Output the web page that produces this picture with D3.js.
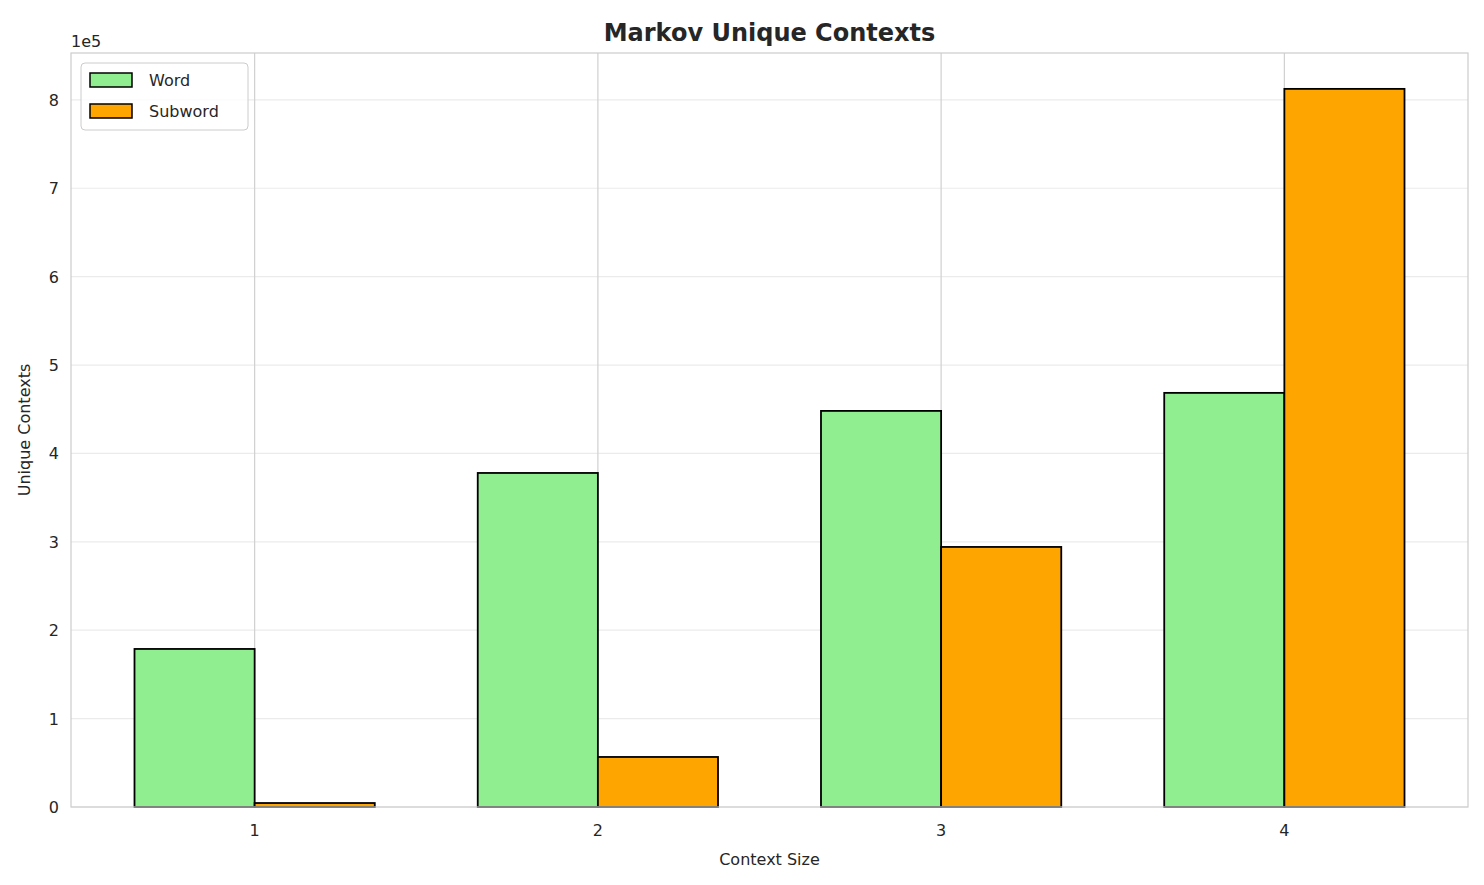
<!DOCTYPE html>
<html><head><meta charset="utf-8">
<script src="https://cdn.jsdelivr.net/npm/d3@7"></script>
<style>body{margin:0;background:#fff;font-family:"DejaVu Sans",sans-serif}</style>
</head><body>
<svg id="chart" width="1484" height="885"></svg>
<script>
// chart data
var contextSizes = [1, 2, 3, 4];
var wordValues = [178800, 377900, 448100, 468500];
var subwordValues = [4500, 56600, 294200, 812400];
var yTicks = [0, 1, 2, 3, 4, 5, 6, 7, 8];

var margin = {left: 71, right: 16, top: 53, bottom: 78};
var W = 1484, H = 885;
var svg = d3.select('#chart');
var BW = 0.35;

var x = d3.scaleLinear().domain([-0.535, 3.535]).range([margin.left, W - margin.right]);
var y = d3.scaleLinear().domain([0, 853000]).range([H - margin.bottom, margin.top]);

// grid
svg.append('g').selectAll('line.h').data(yTicks).enter().append('line')
    .attr('x1', margin.left).attr('x2', W - margin.right)
    .attr('y1', function(d) { return y(d * 1e5); })
    .attr('y2', function(d) { return y(d * 1e5); })
    .style('stroke', '#ebebeb').style('stroke-width', 1.2);
svg.append('g').selectAll('line.v').data(contextSizes).enter().append('line')
    .attr('x1', function(d, i) { return x(i); }).attr('x2', function(d, i) { return x(i); })
    .attr('y1', margin.top).attr('y2', H - margin.bottom)
    .style('stroke', '#d0d0d0').style('stroke-width', 1.2);

function drawBars(vals, offset, fill) {
  svg.append('g').selectAll('rect').data(vals).enter().append('rect')
      .attr('x', function(d, i) { return x(i + offset); })
      .attr('width', x(BW) - x(0))
      .attr('y', function(d) { return y(d); })
      .attr('height', function(d) { return y(0) - y(d); })
      .style('fill', fill).style('stroke', 'black').style('stroke-width', 1.8);
}
drawBars(wordValues, -BW, '#90ee90');
drawBars(subwordValues, 0, '#ffa500');

// frame
svg.append('rect').attr('x', margin.left).attr('y', margin.top)
    .attr('width', W - margin.right - margin.left).attr('height', H - margin.bottom - margin.top)
    .style('fill', 'none').style('stroke', '#cccccc').style('stroke-width', 1.2);

// tick labels
svg.append('g').selectAll('text').data(yTicks).enter().append('text')
    .attr('x', margin.left - 12).attr('y', function(d) { return y(d * 1e5) + 6; })
    .attr('text-anchor', 'end').style('font-size', '16px').style('fill', '#262626')
    .text(String);
svg.append('g').selectAll('text').data(contextSizes).enter().append('text')
    .attr('x', function(d, i) { return x(i); }).attr('y', H - margin.bottom + 29)
    .attr('text-anchor', 'middle').style('font-size', '16px').style('fill', '#262626')
    .text(String);
svg.append('text').attr('x', margin.left).attr('y', margin.top - 6)
    .style('font-size', '16px').style('fill', '#262626').text('1e5');

// titles
svg.append('text').attr('x', (margin.left + W - margin.right) / 2).attr('y', 41)
    .attr('text-anchor', 'middle').style('font-size', '24px').style('font-weight', 'bold')
    .style('fill', '#262626').text('Markov Unique Contexts');
svg.append('text').attr('x', (margin.left + W - margin.right) / 2).attr('y', 865)
    .attr('text-anchor', 'middle').style('font-size', '16px').style('fill', '#262626')
    .text('Context Size');
svg.append('text').attr('transform', 'translate(30,' + ((margin.top + H - margin.bottom) / 2) + ') rotate(-90)')
    .attr('text-anchor', 'middle').style('font-size', '16px').style('fill', '#262626')
    .text('Unique Contexts');

// legend
var lg = svg.append('g').attr('transform', 'translate(81,63)');
lg.append('rect').attr('width', 167).attr('height', 67).attr('rx', 4)
    .style('fill', 'white').style('fill-opacity', 0.8).style('stroke', '#cccccc');
[['Word', '#90ee90'], ['Subword', '#ffa500']].forEach(function(s, i) {
  lg.append('rect').attr('x', 9).attr('y', 10 + i * 31).attr('width', 42).attr('height', 14)
      .style('fill', s[1]).style('stroke', 'black').style('stroke-width', 1.5);
  lg.append('text').attr('x', 68).attr('y', 23 + i * 31).style('font-size', '16px')
      .style('fill', '#262626').text(s[0]);
});
</script>
</body></html>
